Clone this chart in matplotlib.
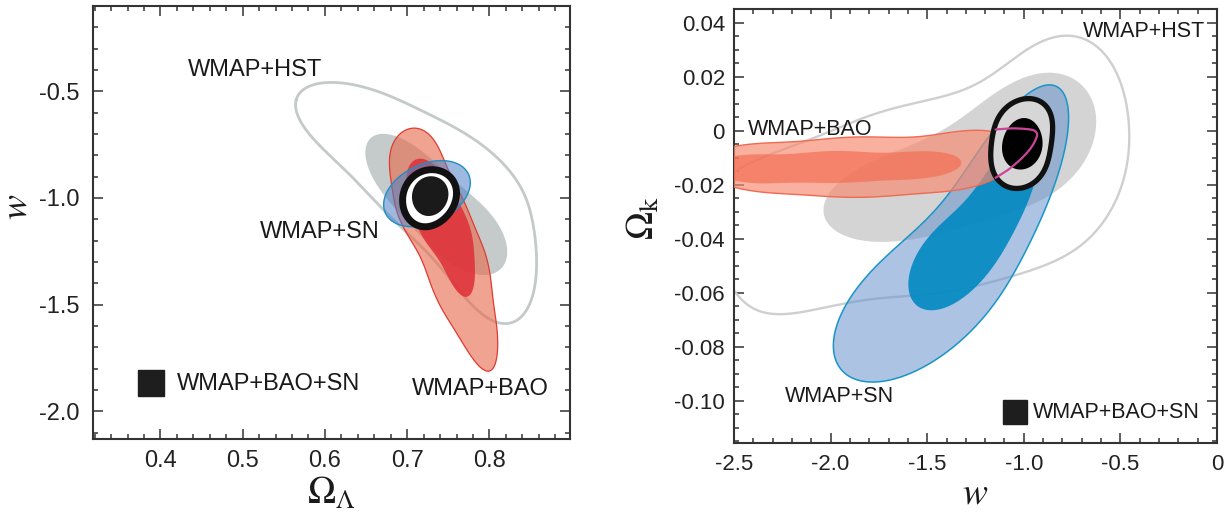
import numpy as np
import matplotlib
matplotlib.use("Agg")
import matplotlib.pyplot as plt
from matplotlib.patches import Polygon
from matplotlib.colors import to_rgba
from matplotlib.ticker import MultipleLocator, FixedLocator, FixedFormatter

plt.rcParams['font.family'] = ['Liberation Sans', 'DejaVu Sans']
plt.rcParams['mathtext.fontset'] = 'stix'
plt.rcParams['axes.unicode_minus'] = False

# ---- left panel: Omega_Lambda vs w (contour outlines) ----
L_HST95_X = [0.558, 0.565, 0.582, 0.619, 0.659, 0.700, 0.740, 0.780, 0.822, 0.843, 0.853, 0.856, 0.854,
             0.850, 0.837, 0.819, 0.807, 0.777, 0.732, 0.698, 0.678, 0.649, 0.619, 0.588, 0.568, 0.559]
L_HST95_Y = [-0.533, -0.486, -0.463, -0.472, -0.495, -0.551, -0.626, -0.729, -0.856, -0.963, -1.081, -1.244, -1.385,
             -1.502, -1.581, -1.619, -1.610, -1.478, -1.291, -1.165, -1.071, -0.963, -0.860, -0.720, -0.626, -0.566]
L_HST68_X = [0.647, 0.655, 0.673, 0.703, 0.740, 0.778, 0.806, 0.820, 0.823, 0.816, 0.801, 0.783, 0.749,
             0.716, 0.683, 0.660, 0.648]
L_HST68_Y = [-0.743, -0.692, -0.687, -0.743, -0.856, -0.978, -1.104, -1.198, -1.277, -1.347, -1.371, -1.361, -1.291,
             -1.184, -1.043, -0.903, -0.809]
L_BAO95_X = [0.706, 0.720, 0.732, 0.749, 0.768, 0.784, 0.797, 0.803, 0.809, 0.809, 0.804, 0.800, 0.795,
             0.773, 0.740, 0.716, 0.695, 0.683, 0.679, 0.680, 0.690]
L_BAO95_Y = [-0.664, -0.675, -0.729, -0.854, -1.010, -1.150, -1.276, -1.432, -1.587, -1.744, -1.825, -1.835, -1.822,
             -1.713, -1.510, -1.276, -1.135, -1.010, -0.886, -0.776, -0.695]
L_BAO68_X = [0.714, 0.728, 0.745, 0.762, 0.777, 0.783, 0.781, 0.778, 0.774, 0.768, 0.752, 0.736, 0.718, 0.705, 0.699, 0.702]
L_BAO68_Y = [-0.805, -0.830, -0.900, -1.010, -1.140, -1.276, -1.385, -1.460, -1.482, -1.470, -1.385, -1.276, -1.180,
             -1.060, -0.930, -0.840]
L_SN95_X = [0.671, 0.675, 0.688, 0.708, 0.736, 0.761, 0.779, 0.781, 0.773, 0.752, 0.728, 0.704, 0.683, 0.673]
L_SN95_Y = [-1.010, -0.948, -0.901, -0.862, -0.831, -0.831, -0.870, -0.932, -0.995, -1.057, -1.112, -1.151, -1.135, -1.073]
L_ALL95_X = [0.695, 0.700, 0.714, 0.736, 0.754, 0.760, 0.756, 0.742, 0.723, 0.706, 0.697]
L_ALL95_Y = [-1.010, -0.929, -0.878, -0.862, -0.896, -0.963, -1.045, -1.107, -1.145, -1.123, -1.073]
L_ALL68_X = [0.706, 0.710, 0.724, 0.740, 0.750, 0.748, 0.736, 0.720, 0.710]
L_ALL68_Y = [-0.995, -0.932, -0.896, -0.901, -0.956, -1.026, -1.080, -1.088, -1.057]

L_XTICKS = [0.4, 0.5, 0.6, 0.7, 0.8]
L_XLABELS = ['0.4', '0.5', '0.6', '0.7', '0.8']
L_YTICKS = [-0.5, -1.0, -1.5, -2.0]
L_YLABELS = ['-0.5', '-1.0', '-1.5', '-2.0']

# ---- right panel: w vs Omega_k ----
R_HST95_X = [-2.62, -2.50, -2.298, -2.125, -1.952, -1.780, -1.607, -1.434, -1.313, -1.140, -0.968, -0.830, -0.778,
             -0.727, -0.588, -0.502, -0.459, -0.450, -0.467, -0.519, -0.605, -0.709, -0.830, -0.916, -1.054, -1.227,
             -1.486, -1.780, -2.125, -2.332, -2.419, -2.470, -2.496, -2.56, -2.64]
R_HST95_Y = [-0.021, -0.0158, -0.0084, -0.0034, 0.0015, 0.0058, 0.0095, 0.0126, 0.0151, 0.0219, 0.0299, 0.0361, 0.0369,
             0.0361, 0.0287, 0.0188, 0.0077, -0.0010, -0.0133, -0.0257, -0.0356, -0.0430, -0.0479, -0.0504, -0.0541, -0.0572,
             -0.0602, -0.0627, -0.0661, -0.0683, -0.0676, -0.0639, -0.0596, -0.048, -0.032]
R_HST68_X = [-2.082, -2.060, -2.000, -1.900, -1.750, -1.440, -1.054, -0.860, -0.726, -0.657, -0.638, -0.674, -0.744,
             -0.830, -0.920, -1.054, -1.247, -1.440, -1.634, -1.827, -1.982, -2.055]
R_HST68_Y = [-0.0275, -0.0335, -0.0375, -0.0400, -0.0408, -0.0382, -0.0305, -0.0243, -0.0158, -0.0059, 0.0060, 0.0163, 0.0213,
             0.0231, 0.0215, 0.0170, 0.0090, 0.0004, -0.0070, -0.0145, -0.0200, -0.0240]
R_BAO95_X = [-2.62, -2.488, -2.298, -1.952, -1.434, -1.313, -1.158, -1.070, -1.000, -1.070, -1.158, -1.313, -1.434,
             -1.952, -2.298, -2.488, -2.62, -2.70]
R_BAO95_Y = [-0.0075, -0.0065, -0.0041, -0.0028, -0.0016, -0.0004, 0.0003, -0.0020, -0.0080, -0.0140, -0.0176, -0.0213, -0.0232,
             -0.0247, -0.0232, -0.0207, -0.0180, -0.0130]
R_BAO68_X = [-2.62, -2.470, -2.125, -1.607, -1.383, -1.300, -1.296, -1.330, -1.400, -1.607, -2.125, -2.470, -2.62]
R_BAO68_Y = [-0.0105, -0.0096, -0.0078, -0.0078, -0.0084, -0.0100, -0.0120, -0.0145, -0.0158, -0.0183, -0.0195, -0.0189, -0.0160]
R_SN95_X = [-0.870, -0.800, -0.764, -0.773, -0.841, -0.938, -1.073, -1.247, -1.440, -1.634, -1.788, -1.952, -2.021,
            -2.042, -2.004, -1.918, -1.827, -1.634, -1.440, -1.247, -1.092, -0.976, -0.909]
R_SN95_Y = [0.0232, 0.0190, 0.0115, -0.0009, -0.0194, -0.0379, -0.0565, -0.0713, -0.0849, -0.0917, -0.0929, -0.0911, -0.0874,
            -0.0837, -0.0775, -0.0689, -0.0575, -0.0404, -0.0256, -0.0107, 0.0028, 0.0140, 0.0214]
R_SN68_X = [-0.940, -0.976, -1.054, -1.150, -1.286, -1.440, -1.518, -1.585, -1.605, -1.576, -1.499, -1.382, -1.247,
            -1.150, -1.060, -0.980, -0.920, -0.910]
R_SN68_Y = [-0.0180, -0.0256, -0.0379, -0.0503, -0.0602, -0.0663, -0.0676, -0.0651, -0.0602, -0.0503, -0.0404, -0.0305,
            -0.0206, -0.0132, -0.0030, 0.0040, 0.0020, -0.0080]
R_ALL95_X = [-1.172, -1.158, -1.128, -1.070, -1.000, -0.922, -0.876, -0.855, -0.852, -0.866, -0.902, -0.960, -1.020,
             -1.078, -1.135, -1.165]
R_ALL95_Y = [-0.0071, 0.0003, 0.0056, 0.0100, 0.0117, 0.0117, 0.0091, 0.0038, -0.0020, -0.0098, -0.0156, -0.0200, -0.0217,
             -0.0210, -0.0185, -0.0138]
R_ALL68_X = [-1.110, -1.089, -1.050, -0.990, -0.935, -0.907, -0.915, -0.950, -1.020, -1.071, -1.100]
R_ALL68_Y = [-0.0071, 0.0003, 0.0040, 0.0055, 0.0035, -0.0034, -0.0090, -0.0130, -0.0150, -0.0139, -0.0110]
R_EDGE_X = [-1.146, -1.071, -1.003, -0.959, -0.933, -0.937, -0.968, -1.054, -1.146]
R_EDGE_Y = [-0.0174, -0.0139, -0.0096, -0.0059, -0.0022, -0.0004, 0.0005, 0.0009, 0.0005]

R_XTICKS = [-2.5, -2.0, -1.5, -1.0, -0.5, 0.0]
R_XLABELS = ['-2.5', '-2.0', '-1.5', '-1.0', '-0.5', '0']
R_YTICKS = [0.04, 0.02, 0.0, -0.02, -0.04, -0.06, -0.08, -0.10]
R_YLABELS = ['0.04', '0.02', '0', '-0.02', '-0.04', '-0.06', '-0.08', '-0.10']


def smooth_closed(xs, ys, k, span):
    """Smooth closed outline: keep the k lowest Fourier harmonics of the traced points."""
    sx, sy = span
    z = np.asarray(xs) / sx + 1j * np.asarray(ys) / sy
    zc = np.append(z, z[0])
    s = np.concatenate([[0], np.cumsum(np.abs(np.diff(zc)))])
    u = np.linspace(0, s[-1], 512, endpoint=False)
    zr = np.interp(u, s, zc.real) + 1j * np.interp(u, s, zc.imag)
    f = np.fft.fft(zr)
    f[k + 1:-k] = 0
    zs = np.fft.ifft(f)
    zs = np.append(zs, zs[0])
    return np.column_stack([zs.real * sx, zs.imag * sy])


def smooth_open(xs, ys, n=24):
    """Catmull-Rom curve through the traced points."""
    p = np.column_stack([xs, ys]).astype(float)
    p = np.vstack([2 * p[0] - p[1], p, 2 * p[-1] - p[-2]])
    t = np.linspace(0, 1, n, endpoint=False)[:, None]
    segs = []
    for i in range(1, len(p) - 2):
        p0, p1, p2, p3 = p[i - 1], p[i], p[i + 1], p[i + 2]
        segs.append(0.5 * (2 * p1 + (p2 - p0) * t + (2 * p0 - 5 * p1 + 4 * p2 - p3) * t ** 2
                           + (3 * p1 - p0 - 3 * p2 + p3) * t ** 3))
    return np.vstack(segs + [p[-2:-1]])


def region(ax, xs, ys, k, face, alpha=1.0, edge='none', lw=1.0, z=1):
    v = smooth_closed(xs, ys, k, ax.span)
    ax.add_patch(Polygon(v, closed=True, facecolor=to_rgba(face, alpha), edgecolor=edge,
                         lw=lw, zorder=z, joinstyle='round'))


def contour_line(ax, xs, ys, k, color, lw, z):
    v = smooth_closed(xs, ys, k, ax.span)
    ax.plot(v[:, 0], v[:, 1], color=color, lw=lw, zorder=z, solid_joinstyle='round')


def style(ax, xt, xl, yt, yl, xminor, yminor, fs, ypad):
    for s in ax.spines.values():
        s.set_linewidth(1.5)
        s.set_color('#333333')
    ax.xaxis.set_major_locator(FixedLocator(xt))
    ax.xaxis.set_major_formatter(FixedFormatter(xl))
    ax.yaxis.set_major_locator(FixedLocator(yt))
    ax.yaxis.set_major_formatter(FixedFormatter(yl))
    ax.xaxis.set_minor_locator(MultipleLocator(xminor))
    ax.yaxis.set_minor_locator(MultipleLocator(yminor))
    ax.tick_params(which='both', direction='in', top=True, right=True, color='#333333', width=1.1)
    ax.tick_params(which='major', length=7.5, labelsize=fs, labelcolor='#222222')
    ax.tick_params(which='minor', length=3.6)
    ax.tick_params(axis='x', pad=8)
    ax.tick_params(axis='y', pad=ypad)


fig = plt.figure(figsize=(12.26, 5.12), dpi=100)
ax1 = fig.add_axes([93 / 1226, 73 / 512, 477 / 1226, 433 / 512])
ax2 = fig.add_axes([734 / 1226, 69 / 512, 483 / 1226, 434 / 512])

txt = dict(color='#1a1a1a')

# left panel
ax1.set_xlim(0.318, 0.898)
ax1.set_ylim(-2.13, -0.10)
ax1.span = (0.58, 2.03)
region(ax1, L_HST68_X, L_HST68_Y, 3, '#c5cbcb', 1.0, z=1)
contour_line(ax1, L_HST95_X, L_HST95_Y, 5, '#c4c9c9', 2.0, 2)
region(ax1, L_BAO95_X, L_BAO95_Y, 8, (0.91, 0.42, 0.30), 0.62, '#e03a32', 0.9, z=3)
region(ax1, L_BAO68_X, L_BAO68_Y, 5, '#de2f36', 0.85, z=4)
region(ax1, L_SN95_X, L_SN95_Y, 1, (0.30, 0.50, 0.78), 0.55, '#1f8fc4', 1.0, z=5)
region(ax1, L_ALL95_X, L_ALL95_Y, 2, 'white', 1.0, '#111111', 5.0, z=6)
region(ax1, L_ALL68_X, L_ALL68_Y, 2, '#1a1a1a', 1.0, z=7)
style(ax1, L_XTICKS, L_XLABELS, L_YTICKS, L_YLABELS, 0.02, 0.1, 17, 10)

ax1.text(0.515, -0.402, 'WMAP+HST', fontsize=17, ha='center', va='center', **txt)
ax1.text(0.594, -1.160, 'WMAP+SN', fontsize=17, ha='center', va='center', **txt)
ax1.text(0.789, -1.895, 'WMAP+BAO', fontsize=17, ha='center', va='center', **txt)
ax1.plot([0.388], [-1.867], 's', ms=18.5, color='#1e1e1e', zorder=8)
ax1.text(0.420, -1.872, 'WMAP+BAO+SN', fontsize=17, ha='left', va='center', **txt)

ax1.set_xlabel(r'$\Omega_\Lambda$', fontsize=27, color='#1a1a1a')
ax1.xaxis.set_label_coords(0.5, -0.085)
ax1.set_ylabel(r'$w$', fontsize=27, color='#1a1a1a')
ax1.yaxis.set_label_coords(-0.122, 0.536)

# right panel
ax2.set_xlim(-2.5, 0.0)
ax2.set_ylim(-0.1156, 0.0451)
ax2.span = (2.5, 0.1607)
region(ax2, R_HST68_X, R_HST68_Y, 3, '#d4d4d4', 1.0, z=1)
contour_line(ax2, R_HST95_X, R_HST95_Y, 7, '#cfcfcf', 1.7, 2)
region(ax2, R_SN95_X, R_SN95_Y, 3, (104 / 255, 147 / 255, 205 / 255), 0.55, '#1895c8', 1.1, z=3)
region(ax2, R_SN68_X, R_SN68_Y, 3, (0.0, 0.54, 0.76), 0.9, z=4)
region(ax2, R_BAO95_X, R_BAO95_Y, 5, (247 / 255, 139 / 255, 112 / 255), 0.68, '#f06a52', 1.0, z=5)
region(ax2, R_BAO68_X, R_BAO68_Y, 5, (244 / 255, 106 / 255, 78 / 255), 0.65, z=6)
region(ax2, R_ALL95_X, R_ALL95_Y, 3, '#d6d6d6', 1.0, '#111111', 3.8, z=7)
region(ax2, R_ALL68_X, R_ALL68_Y, 2, '#000000', 1.0, z=8)
v = smooth_open(R_EDGE_X, R_EDGE_Y)
ax2.plot(v[:, 0], v[:, 1], color='#cc4499', lw=1.6, zorder=9, solid_capstyle='round')
style(ax2, R_XTICKS, R_XLABELS, R_YTICKS, R_YLABELS, 0.1, 0.005, 16, 6.5)

ax2.text(-0.692, 0.0367, 'WMAP+HST', fontsize=15.5, ha='left', va='center', **txt)
ax2.text(-2.427, 0.0003, 'WMAP+BAO', fontsize=15.5, ha='left', va='center', **txt)
ax2.text(-2.237, -0.0985, 'WMAP+SN', fontsize=15.5, ha='left', va='center', **txt)
ax2.plot([-1.047], [-0.1041], 's', ms=17, color='#1e1e1e', zorder=10)
ax2.text(-0.951, -0.1042, 'WMAP+BAO+SN', fontsize=15.5, ha='left', va='center', **txt)

ax2.set_xlabel(r'$w$', fontsize=27, color='#1a1a1a')
ax2.xaxis.set_label_coords(0.5, -0.075)
ax2.set_ylabel(r'$\Omega_{\mathrm{k}}$', fontsize=27, color='#1a1a1a')
ax2.yaxis.set_label_coords(-0.150, 0.518)

fig.savefig('out.png', dpi=100)
